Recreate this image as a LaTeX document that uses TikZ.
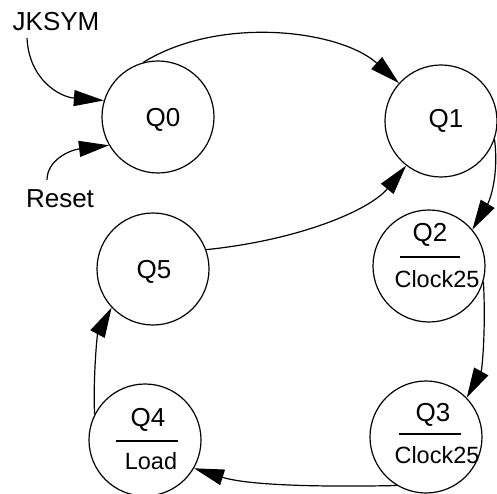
\documentclass[tikz,border=0pt]{standalone}
\usepackage{fontspec}
\setmainfont{Liberation Sans}
\usetikzlibrary{arrows.meta}
\begin{document}
\begin{tikzpicture}[x=1pt,y=-1pt,
  state/.style={circle,draw,line width=1.2pt,minimum size=112pt,inner sep=0pt},
  big/.style={font=\fontsize{26}{30}\selectfont,inner sep=0pt},
  small/.style={font=\fontsize{23.5}{28}\selectfont,inner sep=0pt},
  conn/.style={line width=1.2pt,-{Triangle[length=30pt,width=16pt]}},
  bar/.style={line width=1.2pt}]
\useasboundingbox (0,0) rectangle (497,494);
% states
\node[state] (q0) at (158,117) {};
\node[state] (q1) at (441,121) {};
\node[state] (q2) at (429,266) {};
\node[state] (q3) at (426,437) {};
\node[state] (q4) at (145,440) {};
\node[state] (q5) at (153,269) {};
% labels
\node[big] (q0t) at (163,120) {Q0};
\node[big] (q1t) at (446,121) {Q1};
\node[big] (q5t) at (154,272) {Q5};
\node[big] (q2t) at (430,235) {Q2};
\draw[bar] (400,257) -- (460,257);
\node[small] (q2s) at (437,279) {Clock25};
\node[big] (q3t) at (433,415) {Q3};
\draw[bar] (399,434) -- (461,434);
\node[small] (q3s) at (437,455) {Clock25};
\node[big] (q4t) at (148,420) {Q4};
\draw[bar] (116,441) -- (178,441);
\node[small] (q4s) at (151,461) {Load};
\node[big] (jk) at (56,22) {JKSYM};
\node[big] (rs) at (60,199) {Reset};
\coordinate (jkend) at (27,38);
\coordinate (rsend) at (47,180);
% connectors
\draw[conn] (jkend) .. controls (29,80) and (60,97) .. (q0.163);
\draw[conn] (rsend) .. controls (47,160) and (70,150) .. (q0.210);
\draw[conn] (q0.105) .. controls (220,15) and (340,30) .. (q1.138);
\draw[conn] (q5.20) .. controls (300,240) and (370,210) .. (q1.232);
\draw[conn] (q1.-19) .. controls (499,175) and (490,200) .. (q2.40);
\draw[conn] (q2.-16) .. controls (486,330) and (482,370) .. (q3.44);
\draw[conn] (q3.239) .. controls (330,487) and (250,486) .. (q4.-30);
\draw[conn] (q4.153) .. controls (93,380) and (97,335) .. (q5.223);
\end{tikzpicture}
\end{document}
